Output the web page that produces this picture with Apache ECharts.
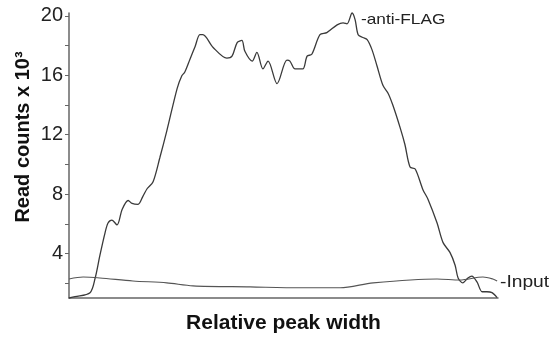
<!DOCTYPE html>
<html>
<head>
<meta charset="utf-8">
<script src="https://cdn.jsdelivr.net/npm/echarts@6/dist/echarts.min.js"></script>
<style>
  html, body { margin: 0; padding: 0; background: #fff; }
  #chart { width: 549px; height: 339px; }
</style>
</head>
<body>
<div id="chart"></div>
<script>
  // relative position along the peak (0-100) and read counts (x 10^3)
  const flagPos = [0, 1.4, 4.9, 6.1, 7.2, 8.4, 9.1, 10.0, 11.2, 12.4, 13.8, 14.7, 16.1, 17.2, 18.2, 19.6,
    21.2, 22.8, 25.2, 26.3, 27.0, 28.2, 29.4, 30.5, 31.2, 33.6, 36.8, 38.0, 39.2, 40.3, 41.0, 42.7,
    43.8, 45.2, 46.4, 48.5, 50.8, 51.5, 52.7, 54.5, 55.5, 56.6, 58.5, 60.1, 62.5, 63.9, 64.8, 66.0,
    66.7, 67.4, 68.5, 69.5, 70.6, 71.8, 73.2, 74.4, 75.5, 77.2, 78.3, 79.5, 80.7, 82.5, 83.7, 85.8,
    87.2, 88.8, 90.0, 90.7, 91.8, 93.0, 93.9, 95.1, 96.3, 97.4, 98.6, 99.8];
  const flagVal = [1.0, 1.09, 1.36, 2.35, 3.87, 5.39, 6.05, 6.25, 5.92, 6.98, 7.57, 7.37, 7.31, 7.83, 8.36, 8.83,
    10.48, 12.26, 15.11, 15.97, 16.23, 17.09, 17.95, 18.74, 18.74, 17.88, 17.16, 17.29, 18.21, 18.35, 17.62, 16.96,
    17.55, 16.43, 16.96, 15.44, 17.02, 16.96, 16.43, 16.43, 17.29, 17.42, 18.74, 18.88, 19.40, 19.54, 19.47, 20.2,
    19.74, 18.74, 18.55, 18.41, 17.75, 16.63, 15.31, 14.78, 13.98, 12.46, 11.34, 9.82, 9.69, 8.30, 7.64, 6.05,
    4.73, 4.07, 3.21, 2.35, 2.02, 2.35, 2.48, 2.08, 1.42, 1.42, 1.36, 1.02];

  const inputPos = [0, 3.3, 7.2, 14.9, 22.8, 28.9, 42.2, 53.8, 63.2, 70.9, 85.8, 91.1, 96.5, 98.8, 99.8];
  const inputVal = [2.28, 2.41, 2.35, 2.15, 2.02, 1.82, 1.75, 1.69, 1.69, 2.02, 2.28, 2.21, 2.41, 2.28, 2.15];

  const yTicks = [2, 4, 6, 8, 10, 12, 14, 16, 18, 20];
  const yLabels = [4, 8, 12, 16, 20];

  const chart = echarts.init(document.getElementById('chart'));
  const font = 'Liberation Sans, Arial, sans-serif';

  chart.setOption({
    animation: false,
    backgroundColor: '#fff',
    grid: { left: 69, right: 51, top: 13, bottom: 35 },
    xAxis: {
      type: 'value',
      min: 0,
      max: 100,
      name: 'Relative peak width',
      nameLocation: 'middle',
      nameGap: 15,
      nameTextStyle: { fontFamily: font, fontSize: 21, fontWeight: 'bold', color: '#111' },
      axisLine: { lineStyle: { color: '#666', width: 1.5 } },
      axisTick: { show: false },
      axisLabel: { show: false },
      splitLine: { show: false }
    },
    yAxis: {
      type: 'value',
      min: 1,
      max: 20.2,
      axisLine: { show: true, lineStyle: { color: '#666', width: 1.5 } },
      axisTick: { show: true, length: 4, customValues: yTicks, lineStyle: { color: '#666' } },
      axisLabel: {
        customValues: yLabels,
        fontFamily: font,
        fontSize: 20,
        color: '#222',
        margin: 6
      },
      splitLine: { show: false }
    },
    series: [
      {
        name: 'anti-FLAG',
        type: 'line',
        smooth: 0.3,
        showSymbol: false,
        clip: false,
        data: flagPos.map((p, i) => [p, flagVal[i]]),
        lineStyle: { color: '#3a3a3a', width: 1.3 }
      },
      {
        name: 'Input',
        type: 'line',
        smooth: 0.3,
        showSymbol: false,
        data: inputPos.map((p, i) => [p, inputVal[i]]),
        lineStyle: { color: '#555', width: 1.1 }
      }
    ],
    graphic: [
      {
        type: 'text',
        x: 23, y: 137,
        rotation: Math.PI / 2,
        style: {
          text: 'Read counts x 10³',
          fontFamily: font, fontSize: 20, fontWeight: 'bold', fill: '#111',
          align: 'center', verticalAlign: 'middle'
        }
      },
      {
        type: 'text',
        x: 361, y: 20,
        scaleX: 1.15,
        style: {
          text: '-anti-FLAG',
          fontFamily: font, fontSize: 15, fill: '#222',
          align: 'left', verticalAlign: 'middle'
        }
      },
      {
        type: 'text',
        x: 500, y: 283,
        scaleX: 1.2,
        style: {
          text: '-Input',
          fontFamily: font, fontSize: 16, fill: '#222',
          align: 'left', verticalAlign: 'middle'
        }
      }
    ]
  });
</script>
</body>
</html>
